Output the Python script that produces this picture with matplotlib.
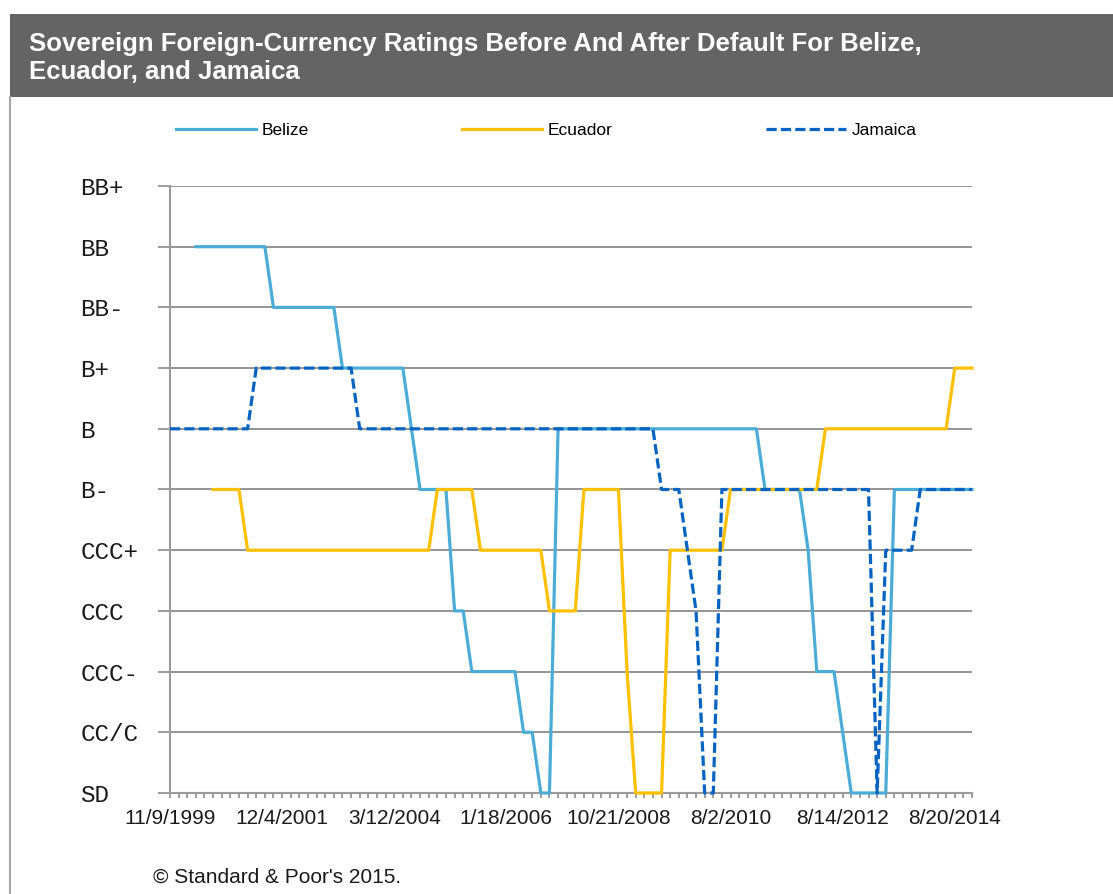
import matplotlib
matplotlib.use("Agg")
import matplotlib.pyplot as plt
from matplotlib.patches import Rectangle
from matplotlib.lines import Line2D
import numpy as np

# ---------------- data ----------------
ratings = ["SD", "CC/C", "CCC-", "CCC", "CCC+", "B-", "B", "B+", "BB-", "BB", "BB+"]
date_labels = ["11/9/1999", "12/4/2001", "3/12/2004", "1/18/2006",
               "10/21/2008", "8/2/2010", "8/14/2012", "8/20/2014"]
label_every = 13

belize = [
    None, None, None,
    "BB", "BB", "BB", "BB", "BB", "BB", "BB", "BB", "BB",
    "BB-", "BB-", "BB-", "BB-", "BB-", "BB-", "BB-", "BB-",
    "B+", "B+", "B+", "B+", "B+", "B+", "B+", "B+",
    "B",
    "B-", "B-", "B-", "B-",
    "CCC", "CCC",
    "CCC-", "CCC-", "CCC-", "CCC-", "CCC-", "CCC-",
    "CC/C", "CC/C",
    "SD", "SD",
    "B", "B", "B", "B", "B", "B", "B", "B",
    "B", "B", "B", "B", "B", "B", "B", "B",
    "B", "B", "B", "B", "B", "B", "B", "B",
    "B-", "B-", "B-", "B-", "B-",
    "CCC+",
    "CCC-", "CCC-", "CCC-",
    "CC/C",
    "SD", "SD", "SD", "SD", "SD",
    "B-", "B-", "B-", "B-", "B-", "B-", "B-", "B-", "B-", "B-",
]

ecuador = [
    None, None, None, None, None,
    "B-", "B-", "B-", "B-",
    "CCC+", "CCC+", "CCC+", "CCC+", "CCC+", "CCC+", "CCC+", "CCC+",
    "CCC+", "CCC+", "CCC+", "CCC+", "CCC+", "CCC+", "CCC+", "CCC+",
    "CCC+", "CCC+", "CCC+", "CCC+", "CCC+", "CCC+",
    "B-", "B-", "B-", "B-", "B-",
    "CCC+", "CCC+", "CCC+", "CCC+", "CCC+", "CCC+", "CCC+", "CCC+",
    "CCC", "CCC", "CCC", "CCC",
    "B-", "B-", "B-", "B-", "B-",
    "CCC-",
    "SD", "SD", "SD", "SD",
    "CCC+", "CCC+", "CCC+", "CCC+", "CCC+", "CCC+", "CCC+",
    "B-", "B-", "B-", "B-", "B-", "B-", "B-", "B-", "B-", "B-", "B-",
    "B", "B", "B", "B", "B", "B", "B", "B",
    "B", "B", "B", "B", "B", "B", "B",
    "B+", "B+", "B+",
]

jamaica = [
    "B", "B", "B", "B", "B", "B", "B", "B", "B", "B",
    "B+", "B+", "B+", "B+", "B+", "B+", "B+", "B+", "B+", "B+", "B+", "B+",
    "B", "B", "B", "B", "B", "B", "B", "B", "B", "B",
    "B", "B", "B", "B", "B", "B", "B", "B", "B", "B",
    "B", "B", "B", "B", "B", "B", "B", "B", "B", "B",
    "B", "B", "B", "B", "B",
    "B-", "B-", "B-",
    "CCC+",
    "CCC",
    "SD", "SD",
    "B-", "B-", "B-", "B-", "B-", "B-", "B-", "B-", "B-",
    "B-", "B-", "B-", "B-", "B-", "B-", "B-", "B-", "B-",
    "SD",
    "CCC+", "CCC+", "CCC+", "CCC+",
    "B-", "B-", "B-", "B-", "B-", "B-", "B-",
]

series_names = ["Belize", "Ecuador", "Jamaica"]

# ---------------- figure ----------------
W, H = 1113, 894
fig = plt.figure(figsize=(W / 100, H / 100), dpi=100)
fig.patch.set_facecolor("white")


def fx(px):
    return px / W


def fy(py):
    return 1 - py / H


# title bar
fig.add_artist(Rectangle((fx(10), fy(97)), 1 - fx(10), (97 - 14) / H,
                         transform=fig.transFigure, facecolor="#646464",
                         edgecolor="none", zorder=0))
fig.add_artist(Line2D([fx(10), fx(10)], [0, fy(97)], transform=fig.transFigure,
                      color="#a6a6a6", lw=1.5))
fig.text(fx(29), fy(44), "Sovereign Foreign-Currency Ratings Before And After Default For Belize,",
         color="white", fontsize=18.5, fontweight="bold", family="Liberation Sans",
         va="center", ha="left")
fig.text(fx(29), fy(72), "Ecuador, and Jamaica",
         color="white", fontsize=18.5, fontweight="bold", family="Liberation Sans",
         va="center", ha="left")

ax = fig.add_axes([fx(170), fy(793), fx(972) - fx(170), (793 - 186) / H])

rank = {r: i for i, r in enumerate(ratings)}


def to_num(seq):
    return np.array([np.nan if v is None else rank[v] for v in seq], dtype=float)


n = len(jamaica)
colors = ["#4BACD6", "#FFC000", "#0563C1"]
lines = []
for name, seq, col in zip(series_names, [belize, ecuador, jamaica], colors):
    xs = np.arange(len(seq))
    style = (0, (3.2, 1.3)) if name == "Jamaica" else "-"
    ln, = ax.plot(xs, to_num(seq), color=col, lw=2.3, linestyle=style,
                  clip_on=False, zorder=3, label=name)
    lines.append(ln)

ax.set_xlim(0, n - 1)
ax.set_ylim(0, len(ratings) - 1)

ax.set_yticks(range(len(ratings)))
ax.set_yticklabels(ratings, ha="left", family="Liberation Mono", fontsize=17.5, color="#1a1a1a")
ax.tick_params(axis="y", length=8.6, width=1.2, color="#8c8c8c", pad=56.0)

ax.set_xticks(np.arange(0, n, label_every))
ax.set_xticklabels(date_labels, family="Liberation Sans", fontsize=15, color="#1a1a1a")
ax.set_xticks(np.arange(n), minor=True)
ax.tick_params(axis="x", which="both", length=3.8, width=1.2, color="#8c8c8c",
               direction="out", pad=8)

ax.yaxis.grid(True, color="#8c8c8c", lw=1.3)
ax.set_axisbelow(True)
for s in ["top", "right"]:
    ax.spines[s].set_visible(False)
for s in ["left", "bottom"]:
    ax.spines[s].set_color("#9a9a9a")
    ax.spines[s].set_linewidth(1.5)

# legend entries
leg_x = [176, 462, 766]
for ln, px in zip(lines, leg_x):
    fig.legend(handles=[ln], labels=[ln.get_label()], loc="center left",
               bbox_to_anchor=(fx(px), fy(130)), frameon=False,
               handlelength=4.6, handletextpad=0.35, borderpad=0, borderaxespad=0,
               prop={"family": "Liberation Sans", "size": 12.5})

fig.text(fx(153), fy(877), "\u00a9 Standard & Poor's 2015.", fontsize=15,
         family="Liberation Sans", color="#1a1a1a", va="center", ha="left")

fig.savefig("out.png", dpi=100)
